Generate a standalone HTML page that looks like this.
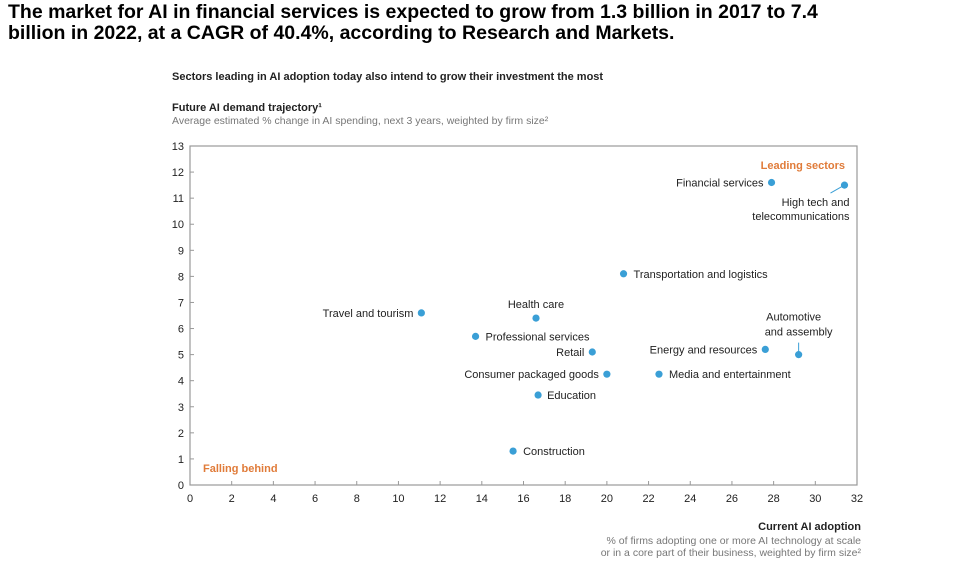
<!DOCTYPE html>
<html><head><meta charset="utf-8"><style>
body{margin:0;background:#fff;width:969px;height:573px;overflow:hidden;font-family:"Liberation Sans",Arial,sans-serif}
#title{position:absolute;left:8px;top:2px;font-size:19.5px;font-weight:bold;line-height:21px;color:#000}
svg{position:absolute;left:0;top:0}
</style></head><body>
<div id="title">The market for AI in financial services is expected to grow from 1.3 billion in 2017 to 7.4<br>billion in 2022, at a CAGR of 40.4%, according to Research and Markets.</div>
<svg id="chart" width="969" height="573"></svg>
<script>
const names=["Financial services","High tech and telecommunications","Transportation and logistics","Health care","Travel and tourism","Professional services","Retail","Consumer packaged goods","Education","Construction","Energy and resources","Automotive and assembly","Media and entertainment"];
const xVals=[27.9,31.4,20.8,16.6,11.1,13.7,19.3,20.0,16.7,15.5,27.6,29.2,22.5];
const yVals=[11.6,11.5,8.1,6.4,6.6,5.7,5.1,4.25,3.45,1.3,5.2,5.0,4.25];
const xTicks=[0,2,4,6,8,10,12,14,16,18,20,22,24,26,28,30,32];
const yTicks=[0,1,2,3,4,5,6,7,8,9,10,11,12,13];
const X0=190,X1=857,Y0=485,Y1=146;
const sx=v=>X0+v/32*(X1-X0), sy=v=>Y0-v/13*(Y0-Y1);
const svg=document.getElementById('chart');const NS='http://www.w3.org/2000/svg';
function mk(t,a,txt){const e=document.createElementNS(NS,t);for(const k in a)e.setAttribute(k,a[k]);if(txt!=null)e.textContent=txt;svg.appendChild(e);return e;}
let e;
e=mk('text',{x:172,y:80,'font-size':11,'font-weight':'bold',fill:'#222'},'Sectors leading in AI adoption today also intend to grow their investment the most');


e=mk('text',{x:172,y:111,'font-size':11,'font-weight':'bold',fill:'#222'},'Future AI demand trajectory¹');


e=mk('text',{x:172,y:124,'font-size':10.5,fill:'#777'},'Average estimated % change in AI spending, next 3 years, weighted by firm size²');


e=mk('rect',{x:X0,y:Y1,width:X1-X0,height:Y0-Y1,fill:'none',stroke:'#999','stroke-width':1.2});


yTicks.forEach(t=>{const y=sy(t);
 mk('line',{x1:X0,x2:X0+4,y1:y,y2:y,stroke:'#999'});
 e=mk('text',{x:X0-6,y:y+4,'font-size':11,'text-anchor':'end',fill:'#222'},t);
 
 });
xTicks.forEach(t=>{const x=sx(t);
 mk('line',{x1:x,x2:x,y1:Y0,y2:Y0-4,stroke:'#999'});
 e=mk('text',{x:x,y:Y0+17,'font-size':11,'text-anchor':'middle',fill:'#222'},t);
 
 });
e=mk('text',{x:861,y:530,'font-size':11,'font-weight':'bold','text-anchor':'end',fill:'#222'},'Current AI adoption');


e=mk('text',{x:861,y:544,'font-size':10.5,'text-anchor':'end',fill:'#777'},'% of firms adopting one or more AI technology at scale');


e=mk('text',{x:861,y:556,'font-size':10.5,'text-anchor':'end',fill:'#777'},'or in a core part of their business, weighted by firm size²');


e=mk('text',{x:845,y:169,'font-size':11,'font-weight':'bold','text-anchor':'end',fill:'#e07b39'},'Leading sectors');


e=mk('text',{x:203,y:472,'font-size':11,'font-weight':'bold',fill:'#e07b39'},'Falling behind');


// label offsets relative to point: [dx,dy,anchor]
const lab=[[-8,4,'end'],[0,0,'end'],[10,4,'start'],[0,-10,'middle'],[-8,4,'end'],[10,4,'start'],[-8,4,'end'],[-8,4,'end'],[9,4,'start'],[10,4,'start'],[-8,4,'end'],[0,0,'middle'],[10,4,'start']];
names.forEach((n,i)=>{const cx=sx(xVals[i]),cy=sy(yVals[i]);
 e=mk('circle',{cx:cx,cy:cy,r:3.6,fill:'#3a9fd6'});
 
 
 const [dx,dy,a]=lab[i];
 if(i===1){mk('line',{x1:cx,y1:cy,x2:cx-14,y2:cy+8,stroke:'#3a9fd6'});
  e=mk('text',{x:cx+5,y:cy+21,'font-size':11,'text-anchor':'end',fill:'#222'},'High tech and');
  
  
  e=mk('text',{x:cx+5,y:cy+35,'font-size':11,'text-anchor':'end',fill:'#222'},'telecommunications');
  
  return;}
 if(i===11){mk('line',{x1:cx,y1:cy,x2:cx,y2:cy-12,stroke:'#3a9fd6'});
  e=mk('text',{x:cx-5,y:cy-34,'font-size':11,'text-anchor':'middle',fill:'#222'},'Automotive');
  
  
  e=mk('text',{x:cx,y:cy-19,'font-size':11,'text-anchor':'middle',fill:'#222'},'and assembly');
  
  return;}
 e=mk('text',{x:cx+dx,y:cy+dy,'font-size':11,'text-anchor':a,fill:'#222'},n);
 
 
});
</script>
</body></html>
